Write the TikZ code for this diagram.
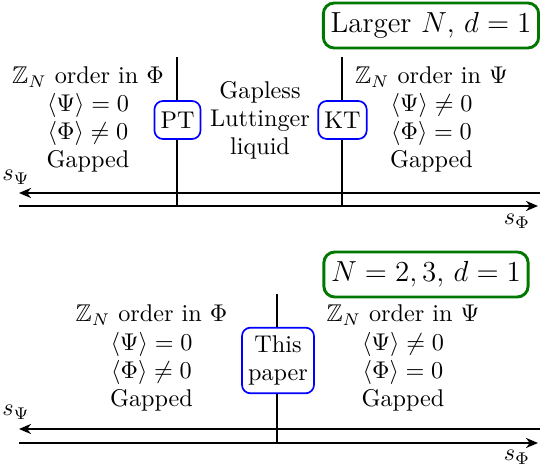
\documentclass[tikz,border=0pt]{standalone}
\usepackage{amsmath,amssymb}
\usepackage{xcolor,tikz}
\usetikzlibrary{arrows.meta,positioning}
\definecolor{framegreen}{RGB}{0,120,0}
\definecolor{markblue}{RGB}{0,0,255}

\begin{document}
\begin{tikzpicture}[x=0.4133pt,y=-0.4133pt,
  phase/.style={align=center,font=\fontsize{10}{11.6}\selectfont},
  transition/.style={draw=markblue,line width=0.7pt,fill=white,rounded corners=3.5pt,inner xsep=2.5pt,minimum height=15.7pt,align=center,font=\fontsize{10}{11.6}\selectfont},
  setting/.style={draw=framegreen,very thick,rounded corners=4.5pt,font=\large,inner xsep=3pt,minimum height=18.6pt},
  phaseaxis/.style={very thick,-{Stealth[length=5pt,width=4.2pt]}},
  boundary/.style={line width=0.55pt}]
\useasboundingbox (0,0) rectangle (540,468);
% top panel: larger N
\node[setting] (largeN) at (431,25.5) {Larger $N$, $d=1$};
\coordinate (PTtop) at (177,57);
\coordinate (PTbot) at (177,206);
\coordinate (KTtop) at (342,57);
\coordinate (KTbot) at (342,206);
\draw[boundary] (PTtop) -- (PTbot);
\draw[boundary] (KTtop) -- (KTbot);
\node[transition] (PT) at (177.5,120) {PT};
\node[transition] (KT) at (342.5,120) {KT};
\node[phase] (phiOrderA) at (88,119.5) {$\mathbb{Z}_N$ order in $\Phi$\\$\langle\Psi\rangle=0$\\$\langle\Phi\rangle\neq0$\\Gapped};
\node[phase] (luttinger) at (260,120) {Gapless\\Luttinger\\liquid};
\node[phase] (psiOrderA) at (431.5,119.5) {$\mathbb{Z}_N$ order in $\Psi$\\$\langle\Psi\rangle\neq0$\\$\langle\Phi\rangle=0$\\Gapped};
\coordinate (psiStartA) at (541,193);
\coordinate (psiEndA) at (19,193);
\coordinate (phiStartA) at (19,206);
\coordinate (phiEndA) at (538,206);
\draw[phaseaxis] (psiStartA) -- (psiEndA);
\draw[phaseaxis] (phiStartA) -- (phiEndA);
\node (sPsiA) at (16,177) {$s_\Psi$};
\node (sPhiA) at (517,221) {$s_\Phi$};
% bottom panel: N=2,3
\node[setting] (smallN) at (426,274.5) {$N=2,3$, $d=1$};
\coordinate (paperTop) at (277,294);
\coordinate (paperBot) at (277,443);
\draw[boundary] (paperTop) -- (paperBot);
\node[transition,minimum height=25pt] (paper) at (278,360.5) {This\\paper};
\node[phase] (phiOrderB) at (151.5,358) {$\mathbb{Z}_N$ order in $\Phi$\\$\langle\Psi\rangle=0$\\$\langle\Phi\rangle\neq0$\\Gapped};
\node[phase] (psiOrderB) at (403,358) {$\mathbb{Z}_N$ order in $\Psi$\\$\langle\Psi\rangle\neq0$\\$\langle\Phi\rangle=0$\\Gapped};
\coordinate (psiStartB) at (541,429);
\coordinate (psiEndB) at (19,429);
\coordinate (phiStartB) at (19,443);
\coordinate (phiEndB) at (538,443);
\draw[phaseaxis] (psiStartB) -- (psiEndB);
\draw[phaseaxis] (phiStartB) -- (phiEndB);
\node (sPsiB) at (16,412) {$s_\Psi$};
\node (sPhiB) at (517,457) {$s_\Phi$};
\end{tikzpicture}
\end{document}
